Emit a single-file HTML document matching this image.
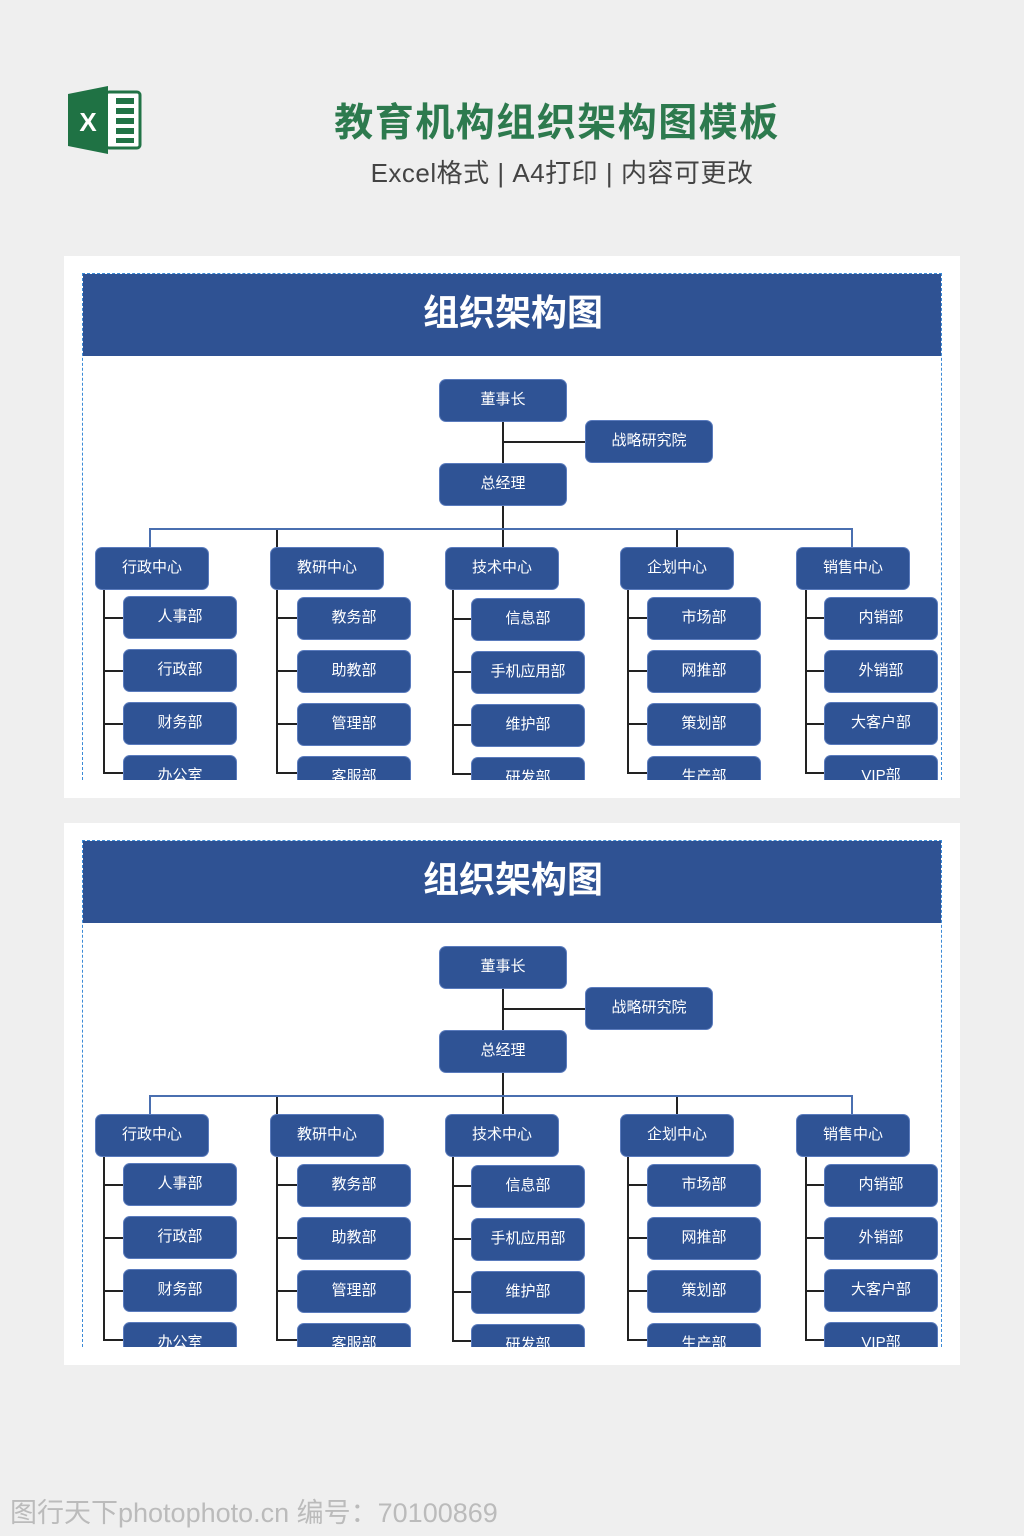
<!DOCTYPE html>
<html><head><meta charset="utf-8"><style>
body{margin:0;width:1024px;height:1536px;background:#efefef;position:relative;overflow:hidden;font-family:"Liberation Sans","Noto Sans CJK SC",sans-serif}
.a{position:absolute}
.panel{position:absolute;left:64px;width:896px;height:542px;background:#fff}
.clip{position:absolute;left:18px;top:17px;width:860px;height:507px;overflow:hidden;border:1px dashed #3b8ad6;border-bottom:none;box-sizing:border-box}
.hd{position:absolute;left:0;top:0;width:860px;height:82px;background:#2f5293;color:#fff;font-size:36px;font-weight:bold;text-align:center;line-height:78px}
.b{position:absolute;width:126px;height:41px;background:#2f5395;border-radius:6px;color:#fff;font-size:15px;text-align:center;line-height:40px;box-shadow:0 0 0 1px #5a7bbd}
.s{width:112px}
.l{position:absolute;background:#222}
.bl{position:absolute;background:#4a6fb0}
</style></head><body>
<svg class="a" style="left:66px;top:84px" width="78" height="72" viewBox="0 0 78 72">
<rect x="40" y="8" width="34" height="56" rx="3" fill="#fff" stroke="#217346" stroke-width="3"/>
<g fill="#217346"><rect x="50" y="14" width="18" height="6"/><rect x="50" y="24" width="18" height="6"/><rect x="50" y="34" width="18" height="6"/><rect x="50" y="44" width="18" height="6"/><rect x="50" y="54" width="18" height="5"/></g>
<polygon points="2,10 42,2 42,70 2,62" fill="#1f7244"/>
<text x="22" y="47" font-size="26" font-weight="bold" fill="#fff" text-anchor="middle" font-family="Liberation Sans">X</text>
</svg>
<div class="a" style="left:0;width:1114px;top:92px;text-align:center;font-size:39px;font-weight:bold;color:#2d7a4e;letter-spacing:1.5px">教育机构组织架构图模板</div>
<div class="a" style="left:0;width:1124px;top:153px;text-align:center;font-size:26px;color:#444;letter-spacing:0.5px">Excel格式 | A4打印 | 内容可更改</div>

<div class="panel" style="top:256px"><div class="clip"><div class="hd">组织架构图</div></div></div>
<div class="panel" style="top:823px"><div class="clip"><div class="hd">组织架构图</div></div></div>

<div class="a" style="left:0;top:256px;width:1024px;height:524px;overflow:hidden">
<div class="l" style="left:502px;top:165px;width:2px;height:127px"></div>
<div class="l" style="left:503px;top:185px;width:83px;height:2px"></div>
<div class="bl" style="left:150px;top:272px;width:703px;height:2px"></div>
<div class="bl" style="left:149px;top:272px;width:2px;height:20px"></div>
<div class="l" style="left:276px;top:274px;width:2px;height:18px"></div>
<div class="l" style="left:676px;top:274px;width:2px;height:18px"></div>
<div class="bl" style="left:851px;top:272px;width:2px;height:20px"></div>
<div class="b" style="left:440px;top:124px">董事长</div>
<div class="b" style="left:586px;top:165px">战略研究院</div>
<div class="b" style="left:440px;top:208px">总经理</div>
<div class="b s" style="left:96px;top:292px">行政中心</div>
<div class="b s" style="left:271px;top:292px">教研中心</div>
<div class="b s" style="left:446px;top:292px">技术中心</div>
<div class="b s" style="left:621px;top:292px">企划中心</div>
<div class="b s" style="left:797px;top:292px">销售中心</div>
<div class="l" style="left:103px;top:334px;width:2px;height:184px"></div>
<div class="l" style="left:103px;top:361px;width:21px;height:2px"></div><div class="l" style="left:103px;top:414px;width:21px;height:2px"></div><div class="l" style="left:103px;top:467px;width:21px;height:2px"></div><div class="l" style="left:103px;top:516px;width:21px;height:2px"></div>
<div class="l" style="left:276px;top:334px;width:2px;height:184px"></div>
<div class="l" style="left:276px;top:361px;width:22px;height:2px"></div><div class="l" style="left:276px;top:414px;width:22px;height:2px"></div><div class="l" style="left:276px;top:467px;width:22px;height:2px"></div><div class="l" style="left:276px;top:516px;width:22px;height:2px"></div>
<div class="l" style="left:452px;top:334px;width:2px;height:184px"></div>
<div class="l" style="left:452px;top:362px;width:20px;height:2px"></div><div class="l" style="left:452px;top:415px;width:20px;height:2px"></div><div class="l" style="left:452px;top:468px;width:20px;height:2px"></div><div class="l" style="left:452px;top:517px;width:20px;height:2px"></div>
<div class="l" style="left:627px;top:334px;width:2px;height:184px"></div>
<div class="l" style="left:627px;top:361px;width:21px;height:2px"></div><div class="l" style="left:627px;top:414px;width:21px;height:2px"></div><div class="l" style="left:627px;top:467px;width:21px;height:2px"></div><div class="l" style="left:627px;top:516px;width:21px;height:2px"></div>
<div class="l" style="left:805px;top:334px;width:2px;height:184px"></div>
<div class="l" style="left:805px;top:361px;width:20px;height:2px"></div><div class="l" style="left:805px;top:414px;width:20px;height:2px"></div><div class="l" style="left:805px;top:467px;width:20px;height:2px"></div><div class="l" style="left:805px;top:516px;width:20px;height:2px"></div>
<div class="b s" style="left:124px;top:341px">人事部</div><div class="b s" style="left:124px;top:394px">行政部</div><div class="b s" style="left:124px;top:447px">财务部</div><div class="b s" style="left:124px;top:500px">办公室</div>
<div class="b s" style="left:298px;top:342px">教务部</div><div class="b s" style="left:298px;top:395px">助教部</div><div class="b s" style="left:298px;top:448px">管理部</div><div class="b s" style="left:298px;top:501px">客服部</div>
<div class="b s" style="left:472px;top:343px">信息部</div><div class="b s" style="left:472px;top:396px">手机应用部</div><div class="b s" style="left:472px;top:449px">维护部</div><div class="b s" style="left:472px;top:502px">研发部</div>
<div class="b s" style="left:648px;top:342px">市场部</div><div class="b s" style="left:648px;top:395px">网推部</div><div class="b s" style="left:648px;top:448px">策划部</div><div class="b s" style="left:648px;top:501px">生产部</div>
<div class="b s" style="left:825px;top:342px">内销部</div><div class="b s" style="left:825px;top:395px">外销部</div><div class="b s" style="left:825px;top:447px">大客户部</div><div class="b s" style="left:825px;top:500px">VIP部</div>
</div>

<div class="a" style="left:0;top:823px;width:1024px;height:524px;overflow:hidden">
<div class="l" style="left:502px;top:165px;width:2px;height:127px"></div>
<div class="l" style="left:503px;top:185px;width:83px;height:2px"></div>
<div class="bl" style="left:150px;top:272px;width:703px;height:2px"></div>
<div class="bl" style="left:149px;top:272px;width:2px;height:20px"></div>
<div class="l" style="left:276px;top:274px;width:2px;height:18px"></div>
<div class="l" style="left:676px;top:274px;width:2px;height:18px"></div>
<div class="bl" style="left:851px;top:272px;width:2px;height:20px"></div>
<div class="b" style="left:440px;top:124px">董事长</div>
<div class="b" style="left:586px;top:165px">战略研究院</div>
<div class="b" style="left:440px;top:208px">总经理</div>
<div class="b s" style="left:96px;top:292px">行政中心</div>
<div class="b s" style="left:271px;top:292px">教研中心</div>
<div class="b s" style="left:446px;top:292px">技术中心</div>
<div class="b s" style="left:621px;top:292px">企划中心</div>
<div class="b s" style="left:797px;top:292px">销售中心</div>
<div class="l" style="left:103px;top:334px;width:2px;height:184px"></div>
<div class="l" style="left:103px;top:361px;width:21px;height:2px"></div><div class="l" style="left:103px;top:414px;width:21px;height:2px"></div><div class="l" style="left:103px;top:467px;width:21px;height:2px"></div><div class="l" style="left:103px;top:516px;width:21px;height:2px"></div>
<div class="l" style="left:276px;top:334px;width:2px;height:184px"></div>
<div class="l" style="left:276px;top:361px;width:22px;height:2px"></div><div class="l" style="left:276px;top:414px;width:22px;height:2px"></div><div class="l" style="left:276px;top:467px;width:22px;height:2px"></div><div class="l" style="left:276px;top:516px;width:22px;height:2px"></div>
<div class="l" style="left:452px;top:334px;width:2px;height:184px"></div>
<div class="l" style="left:452px;top:362px;width:20px;height:2px"></div><div class="l" style="left:452px;top:415px;width:20px;height:2px"></div><div class="l" style="left:452px;top:468px;width:20px;height:2px"></div><div class="l" style="left:452px;top:517px;width:20px;height:2px"></div>
<div class="l" style="left:627px;top:334px;width:2px;height:184px"></div>
<div class="l" style="left:627px;top:361px;width:21px;height:2px"></div><div class="l" style="left:627px;top:414px;width:21px;height:2px"></div><div class="l" style="left:627px;top:467px;width:21px;height:2px"></div><div class="l" style="left:627px;top:516px;width:21px;height:2px"></div>
<div class="l" style="left:805px;top:334px;width:2px;height:184px"></div>
<div class="l" style="left:805px;top:361px;width:20px;height:2px"></div><div class="l" style="left:805px;top:414px;width:20px;height:2px"></div><div class="l" style="left:805px;top:467px;width:20px;height:2px"></div><div class="l" style="left:805px;top:516px;width:20px;height:2px"></div>
<div class="b s" style="left:124px;top:341px">人事部</div><div class="b s" style="left:124px;top:394px">行政部</div><div class="b s" style="left:124px;top:447px">财务部</div><div class="b s" style="left:124px;top:500px">办公室</div>
<div class="b s" style="left:298px;top:342px">教务部</div><div class="b s" style="left:298px;top:395px">助教部</div><div class="b s" style="left:298px;top:448px">管理部</div><div class="b s" style="left:298px;top:501px">客服部</div>
<div class="b s" style="left:472px;top:343px">信息部</div><div class="b s" style="left:472px;top:396px">手机应用部</div><div class="b s" style="left:472px;top:449px">维护部</div><div class="b s" style="left:472px;top:502px">研发部</div>
<div class="b s" style="left:648px;top:342px">市场部</div><div class="b s" style="left:648px;top:395px">网推部</div><div class="b s" style="left:648px;top:448px">策划部</div><div class="b s" style="left:648px;top:501px">生产部</div>
<div class="b s" style="left:825px;top:342px">内销部</div><div class="b s" style="left:825px;top:395px">外销部</div><div class="b s" style="left:825px;top:447px">大客户部</div><div class="b s" style="left:825px;top:500px">VIP部</div>
</div>

<div class="a" style="left:10px;top:1491px;font-size:27px;color:#bbb">图行天下photophoto.cn 编号：70100869</div>
</body></html>
